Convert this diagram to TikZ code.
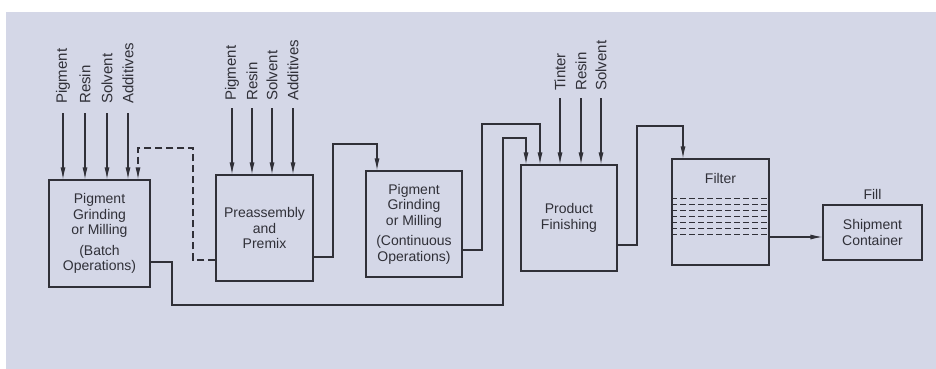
\documentclass[tikz,border=0pt]{standalone}
\usepackage{fontspec}
\setmainfont{Liberation Sans}
\usetikzlibrary{arrows.meta,positioning,calc}
\definecolor{pagebg}{RGB}{212,215,231}
\definecolor{ink}{RGB}{48,48,56}

\begin{document}
\begin{tikzpicture}[
    x=1pt, y=-1pt,
    txt/.style={font=\fontsize{14}{15.5}\selectfont, text=ink, align=center, inner sep=0pt},
    proc/.style={txt, draw=ink, line width=1.1pt},
    feed/.style={txt, font=\fontsize{15}{16}\selectfont, rotate=90, anchor=west, inner sep=1pt},
    arr/.style={draw=ink, line width=1.1pt, -{Latex[length=12pt,width=5pt]}},
    sieve/.style={draw=ink, line width=1pt, dash pattern=on 6pt off 3pt},
  ]
    %% --- page ---
    \useasboundingbox (0,0) rectangle (936,369);
    \fill[white] (0,0) rectangle (936,369);
    \fill[pagebg] (6,12) rectangle (936,369);

    %% --- process boxes ---
    \node[proc, minimum width=101pt, minimum height=107pt] (b1) at (99.5,233.5)
      {Pigment\\Grinding\\or Milling\\[5pt](Batch\\Operations)};
    \node[proc, minimum width=97pt, minimum height=106pt] (b2) at (264.5,228)
      {Preassembly\\and\\Premix};
    \node[proc, minimum width=96pt, minimum height=106pt] (b3) at (414,224)
      {Pigment\\Grinding\\or Milling\\[5pt](Continuous\\Operations)};
    \node[proc, minimum width=96pt, minimum height=106pt] (b4) at (569,218)
      {Product\\Finishing};
    \node[proc, minimum width=97pt, minimum height=106pt] (filt) at (720.5,212) {};
    \node[txt] (filtlbl) at ([yshift=-20pt]filt.north) {Filter};
    \node[proc, minimum width=99pt, minimum height=55pt] (ship) at (872.5,232.5)
      {Shipment\\Container};
    \node[txt] (fill) at ([yshift=10pt]ship.north) {Fill};

    %% --- filter media ---
    \foreach \k in {0,...,6}
      \draw[sieve] ($(filt.west)+(0,{-14+6*\k})$) -- ($(filt.east)+(0,{-14+6*\k})$);

    %% --- raw material feeds ---
    \foreach \x/\t [count=\i] in {63/Pigment, 85/Resin, 107/Solvent, 128/Additives} {
      \node[feed] (fa\i) at (\x,105) {\t};
      \draw[arr] ([yshift=-8pt]fa\i.west) -- (fa\i.west |- b1.north);
    }
    \foreach \x/\t [count=\i] in {232/Pigment, 252/Resin, 272/Solvent, 293/Additives} {
      \node[feed] (fb\i) at (\x,102) {\t};
      \draw[arr] ([yshift=-6pt]fb\i.west) -- (fb\i.west |- b2.north);
    }
    \foreach \x/\t [count=\i] in {560/Tinter, 581/Resin, 601/Solvent} {
      \node[feed] (fc\i) at (\x,92) {\t};
      \draw[arr] ([yshift=-6pt]fc\i.west) -- (fc\i.west |- b4.north);
    }

    %% --- transfer lines ---
    \draw[arr, dash pattern=on 7pt off 4pt] ([yshift=-32pt]b2.west) -| (193,148) -| ([xshift=38.5pt]b1.north);
    \draw[arr] ([yshift=-29pt]b2.east) -| (333,144) -| ([xshift=-37pt]b3.north);
    \draw[arr] ([yshift=-26pt]b3.east) -| (482,124) -| ([xshift=-29pt]b4.north);
    \draw[arr] ([yshift=-28.5pt]b1.east) -| (172,305) -| (503,138) -| ([xshift=-43pt]b4.north);
    \draw[arr] ([yshift=-27pt]b4.east) -| (637,126) -| ([xshift=-37.5pt]filt.north);
    \draw[arr] ([yshift=-25pt]filt.east) -- ([yshift=-4.5pt]ship.west);

  \end{tikzpicture}
\end{document}
